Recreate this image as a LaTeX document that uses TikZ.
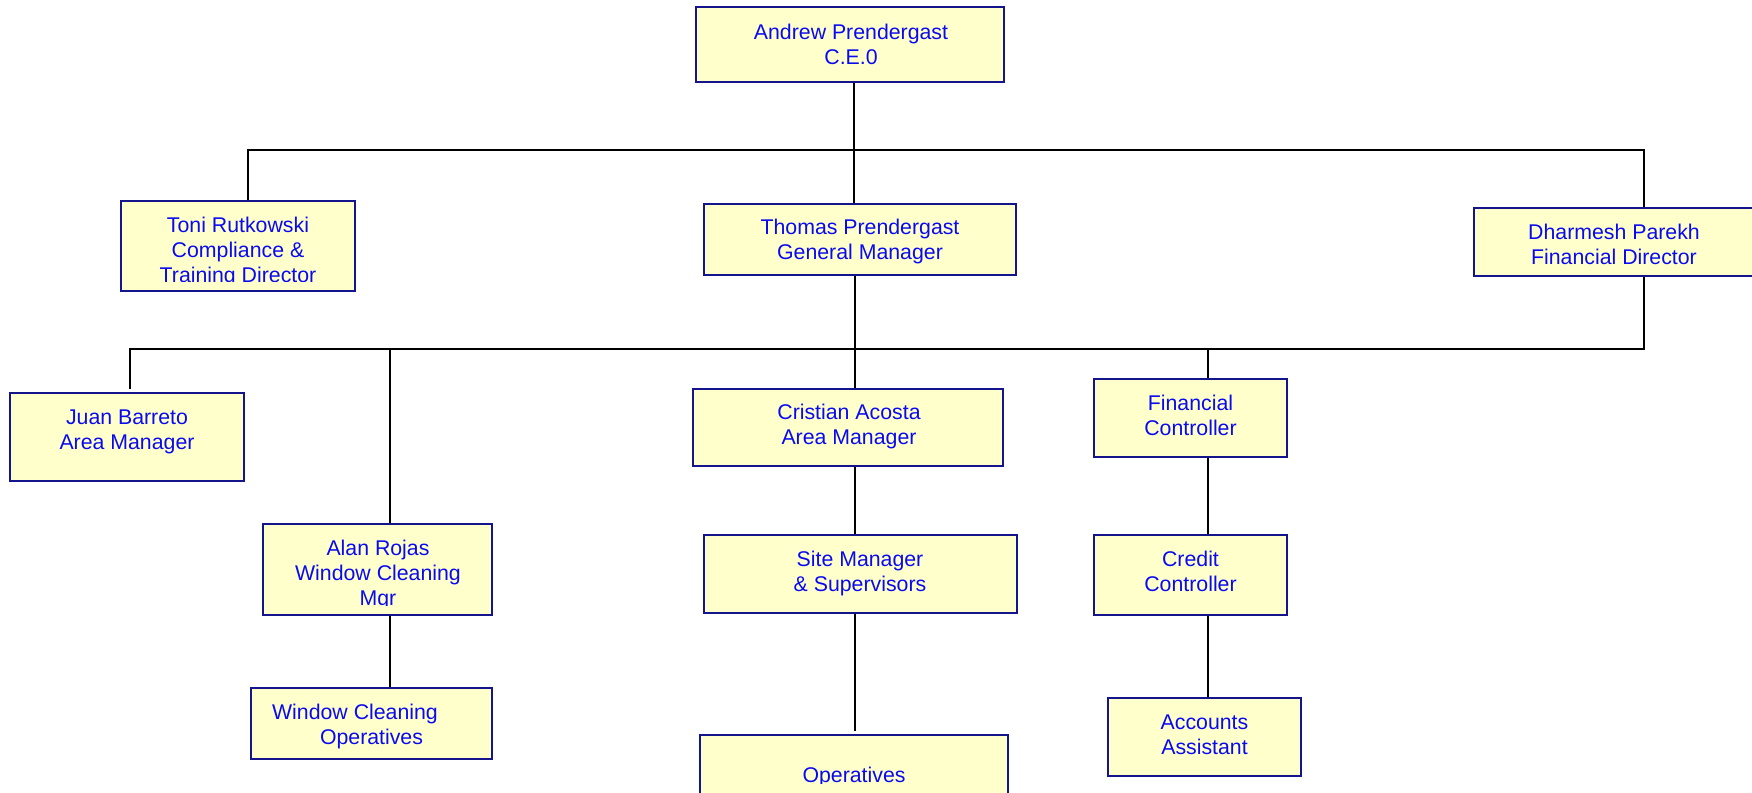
\documentclass[tikz,border=0pt]{standalone}
\usepackage{fontspec}
\setmainfont{Liberation Sans}
\definecolor{boxfill}{RGB}{255,255,204}
\definecolor{boxline}{RGB}{20,20,140}
\definecolor{txtblue}{RGB}{10,10,240}
\begin{document}
\begin{tikzpicture}[x=1pt,y=-1pt,
  box/.style={draw=boxline,fill=boxfill,line width=1.6pt,inner sep=0pt,rectangle},
  txt/.style={text=txtblue,align=center,inner sep=0pt,font=\fontsize{21.3}{25}\selectfont},
  conn/.style={draw=black,line width=1.8pt}]
\useasboundingbox (0,0) rectangle (1752,792);
\fill[white] (0,0) rectangle (1752,792);
% boxes
\node[box,minimum width=308pt,minimum height=75pt] (ceo) at (850,44.5) {};
\node[box,minimum width=312pt,minimum height=71pt] (thomas) at (860,239.5) {};
\node[box,minimum width=234pt,minimum height=90pt] (toni) at (238,246) {};
\node[box,minimum width=282pt,minimum height=68pt] (dharmesh) at (1615,242) {};
\node[box,minimum width=234pt,minimum height=88pt] (juan) at (127,437) {};
\node[box,minimum width=310pt,minimum height=77pt] (cristian) at (848,427.4) {};
\node[box,minimum width=193pt,minimum height=78pt] (fc) at (1190.5,418) {};
\node[box,minimum width=229pt,minimum height=91pt] (alan) at (377.5,569.5) {};
\node[box,minimum width=313pt,minimum height=78pt] (site) at (860.5,574) {};
\node[box,minimum width=193pt,minimum height=80pt] (cc) at (1190.5,575) {};
\node[box,minimum width=241pt,minimum height=71pt] (wco) at (371.5,723.5) {};
\node[box,minimum width=193pt,minimum height=78pt] (aa) at (1204.5,737) {};
\node[box,minimum width=308pt,minimum height=65pt] (ops) at (854,767.5) {};
% texts
\node[txt] (ceot) at (851,47.2) {\strut Andrew Prendergast\\\strut C.E.0};
\node[txt] (thomast) at (860,242.2) {\strut Thomas Prendergast\\\strut General Manager};
\begin{scope}
\clip (100,190) rectangle (400,281);
\node[txt] (tonit) at (238,252.7) {\strut Toni Rutkowski\\\strut Compliance \&\\\strut Training Director};
\end{scope}
\node[txt] (dharmesht) at (1614,246.7) {\strut Dharmesh Parekh\\\strut Financial Director};
\node[txt] (juant) at (127,432.2) {\strut Juan Barreto\\\strut Area Manager};
\node[txt] (cristiant) at (849,427.2) {\strut Cristian Acosta\\\strut Area Manager};
\node[txt] (fct) at (1190.5,418.2) {\strut Financial\\\strut Controller};
\begin{scope}
\clip (250,510) rectangle (500,605);
\node[txt] (alant) at (378,575.4) {\strut Alan Rojas\\\strut Window Cleaning\\\strut Mgr};
\end{scope}
\node[txt] (sitet) at (860,574.2) {\strut Site Manager\\\strut \& Supervisors};
\node[txt] (cct) at (1190.5,573.7) {\strut Credit\\\strut Controller};
\node[txt] (wcot) at (371.5,726.7) {\strut Window Cleaning\rule{33pt}{0pt}\\\strut Operatives};
\node[txt] (aat) at (1204.5,737.2) {\strut Accounts\\\strut Assistant};
\begin{scope}
\clip (690,740) rectangle (1020,783);
\node[txt] (opst) at (854,777.7) {\strut Operatives};
\end{scope}
% connectors
\coordinate (tL) at (248,150);
\coordinate (tA) at (854,150);
\coordinate (tR) at (1644,150);
\draw[conn] (tL |- toni.north) -- (tL) -- (tR) -- (tR |- dharmesh.north);
\draw[conn] (tA |- ceo.south) -- (tA |- thomas.north);
\coordinate (mL) at (130,349);
\coordinate (mAl) at (390,349);
\coordinate (mC) at (855,349);
\coordinate (mF) at (1208,349);
\coordinate (mR) at (1644,349);
\coordinate (juanend) at (130,389);
\coordinate (opsend) at (855,731);
\draw[conn] (juanend) -- (mL) -- (mR) -- (mR |- dharmesh.south);
\draw[conn] (mC |- thomas.south) -- (mC |- cristian.north);
\draw[conn] (mAl) -- (mAl |- alan.north);
\draw[conn] (mAl |- alan.south) -- (mAl |- wco.north);
\draw[conn] (mF) -- (mF |- fc.north);
\draw[conn] (mF |- fc.south) -- (mF |- cc.north);
\draw[conn] (mF |- cc.south) -- (mF |- aa.north);
\draw[conn] (mC |- cristian.south) -- (mC |- site.north);
\draw[conn] (mC |- site.south) -- (opsend);
\end{tikzpicture}
\end{document}
